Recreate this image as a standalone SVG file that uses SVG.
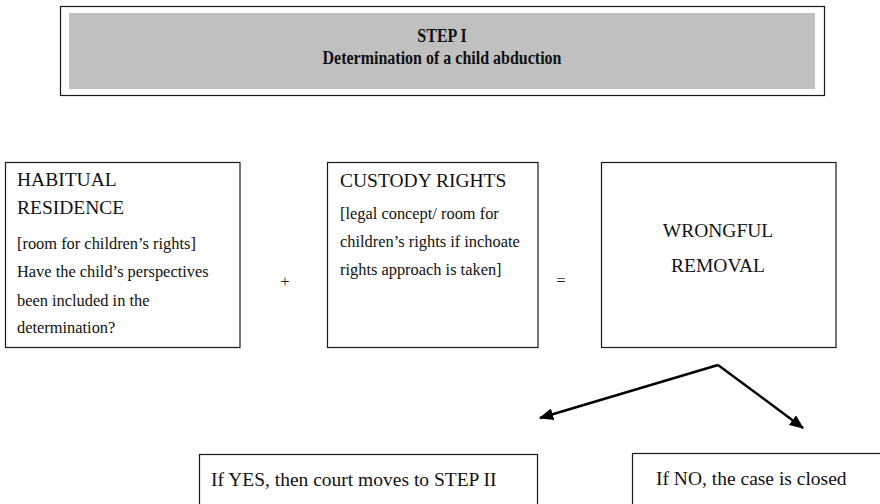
<svg xmlns="http://www.w3.org/2000/svg" width="880" height="504" viewBox="0 0 880 504">
  <style>
    .box { fill: #ffffff; stroke: #1a1a1a; stroke-width: 1.2; }
    .head { font-family: "Liberation Serif", "Times New Roman", serif; font-size: 19.5px; fill: #111; }
    .body { font-family: "Liberation Serif", "Times New Roman", serif; font-size: 16.4px; fill: #111; }
    .title { font-family: "Liberation Serif", "Times New Roman", serif; font-size: 16px; font-weight: bold; fill: #111; text-anchor: middle; }
    .op { font-family: "Liberation Serif", "Times New Roman", serif; font-size: 16px; fill: #222; text-anchor: middle; }
    .conn { stroke: #000; stroke-width: 2.4; fill: none; marker-end: url(#arrow); }
  </style>
  <defs>
    <marker id="arrow" viewBox="0 0 12 10" refX="11" refY="5" markerWidth="6" markerHeight="5" orient="auto" markerUnits="strokeWidth">
      <path d="M0,0 L12,5 L0,10 Z" fill="#000"/>
    </marker>
  </defs>
  <rect width="880" height="504" fill="#ffffff"/>

  <!-- Step heading: bold title, drawn slightly tall and narrow -->
  <g id="step-header">
    <rect x="60.5" y="6.5" width="764" height="89" class="box"/>
    <rect x="69" y="13" width="746" height="76" fill="#c0c0c0"/>
    <text class="title" transform="translate(442,42) scale(1,1.15)">STEP I</text>
    <text class="title" transform="translate(442,64) scale(1,1.15)">Determination of a child abduction</text>
  </g>

  <g id="habitual-residence">
    <rect x="5.5" y="162.5" width="234.5" height="185" class="box"/>
    <text class="head" x="17" y="186">HABITUAL</text>
    <text class="head" x="17" y="214">RESIDENCE</text>
    <text class="body" x="17" y="249">[room for children’s rights]</text>
    <text class="body" x="17" y="277">Have the child’s perspectives</text>
    <text class="body" x="17" y="305.5">been included in the</text>
    <text class="body" x="17" y="333">determination?</text>
  </g>

  <text id="plus" class="op" x="285" y="287">+</text>

  <g id="custody-rights">
    <rect x="327.5" y="162.5" width="210.5" height="185" class="box"/>
    <text class="head" x="340" y="187">CUSTODY RIGHTS</text>
    <text class="body" x="340" y="218.5">[legal concept/ room for</text>
    <text class="body" x="340" y="246.5">children’s rights if inchoate</text>
    <text class="body" x="340" y="274.5">rights approach is taken]</text>
  </g>

  <text id="equals" class="op" x="561" y="286">=</text>

  <g id="wrongful-removal">
    <rect x="601.5" y="162.5" width="234.5" height="185" class="box"/>
    <text class="head" x="718" y="237" text-anchor="middle">WRONGFUL</text>
    <text class="head" x="718" y="272" text-anchor="middle">REMOVAL</text>
  </g>

  <g id="outcome-yes">
    <rect x="199.5" y="454.5" width="338" height="70" class="box"/>
    <text class="head" x="211" y="486">If YES, then court moves to STEP II</text>
  </g>

  <g id="outcome-no">
    <rect x="632.5" y="453.5" width="270" height="70" class="box"/>
    <text class="head" x="656" y="485">If NO, the case is closed</text>
  </g>

  <g id="connectors">
    <line class="conn" x1="718" y1="365" x2="540" y2="418"/>
    <line class="conn" x1="718" y1="365" x2="803" y2="428"/>
  </g>
</svg>
